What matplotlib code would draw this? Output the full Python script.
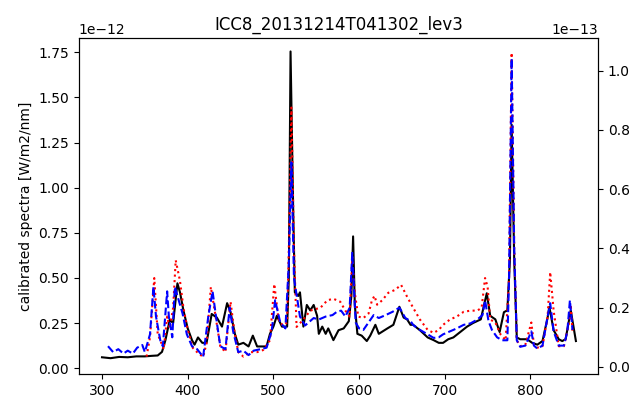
import numpy as np
import matplotlib
matplotlib.use("Agg")
import matplotlib.pyplot as plt

# black, left axis (x1e-12)
wl_black = [300, 310, 320, 330, 340, 350, 358, 365, 370, 374, 379, 383, 388, 391, 395, 400,
            405, 408, 412, 417, 422, 428, 434, 440, 446, 450, 455, 459, 465, 471, 476, 481,
            492, 496, 500, 504, 510, 516, 518, 520, 523, 525, 529, 531, 535, 539, 543, 547,
            551, 553, 557, 561, 564, 570, 576, 582, 588, 591, 593, 595, 598, 603, 609, 613,
            619, 623, 633, 640, 647, 652, 656, 660, 663, 671, 680, 687, 693, 698, 704, 710,
            718, 726, 733, 742, 749, 753, 759, 764, 769, 773, 776, 778, 781, 784, 788, 796,
            802, 808, 814, 820, 822, 827, 833, 837, 841, 847, 853]
black = [0.06, 0.055, 0.062, 0.06, 0.065, 0.065, 0.068, 0.07, 0.09, 0.155, 0.267, 0.25, 0.47, 0.42, 0.32, 0.22,
         0.155, 0.13, 0.17, 0.14, 0.14, 0.30, 0.28, 0.23, 0.36, 0.31, 0.19, 0.13, 0.14, 0.12, 0.18, 0.12,
         0.12, 0.19, 0.23, 0.29, 0.23, 0.23, 0.5, 1.755, 0.9, 0.42, 0.40, 0.42, 0.23, 0.35, 0.32, 0.35,
         0.29, 0.19, 0.23, 0.19, 0.22, 0.155, 0.21, 0.22, 0.26, 0.4, 0.73, 0.35, 0.19, 0.18, 0.15, 0.18,
         0.24, 0.19, 0.22, 0.24, 0.34, 0.28, 0.27, 0.24, 0.24, 0.21, 0.17, 0.155, 0.14, 0.14, 0.16, 0.17,
         0.20, 0.23, 0.25, 0.27, 0.415, 0.29, 0.27, 0.20, 0.31, 0.32, 0.6, 1.35, 0.6, 0.17, 0.16, 0.16,
         0.14, 0.13, 0.15, 0.28, 0.34, 0.21, 0.16, 0.15, 0.16, 0.32, 0.15]

# red dotted, right axis (x1e-13)
wl_red = [352, 356, 361, 365, 368, 372, 376, 379, 383, 386, 391, 395, 400, 406, 412, 418,
          422, 427, 432, 438, 444, 450, 454, 459, 465, 473, 481, 488, 496, 501, 506, 511,
          516, 518, 521, 524, 527, 535, 543, 555, 563, 570, 578, 584, 589, 592, 595, 599,
          605, 611, 615, 618, 621, 627, 634, 642, 649, 656, 663, 671, 680, 687, 693, 698,
          706, 714, 722, 730, 738, 743, 747, 750, 753, 759, 765, 771, 775, 778, 781, 784,
          788, 794, 801, 804, 808, 814, 820, 823, 827, 833, 839, 845, 847, 849]
red = [0.035, 0.1, 0.30, 0.11, 0.09, 0.06, 0.17, 0.13, 0.2, 0.36, 0.29, 0.20, 0.125, 0.064, 0.047, 0.034,
       0.08, 0.27, 0.18, 0.07, 0.05, 0.22, 0.13, 0.05, 0.035, 0.05, 0.05, 0.057, 0.09, 0.28, 0.16, 0.14,
       0.15, 0.4, 0.875, 0.4, 0.135, 0.16, 0.19, 0.20, 0.225, 0.23, 0.22, 0.19, 0.17, 0.37, 0.25, 0.17,
       0.165, 0.18, 0.225, 0.24, 0.21, 0.225, 0.25, 0.26, 0.277, 0.237, 0.20, 0.16, 0.125, 0.115, 0.125, 0.142,
       0.16, 0.17, 0.186, 0.19, 0.19, 0.2, 0.30, 0.27, 0.16, 0.15, 0.11, 0.09, 0.3, 1.06, 0.4, 0.09,
       0.07, 0.075, 0.15, 0.075, 0.065, 0.07, 0.17, 0.32, 0.19, 0.07, 0.07, 0.15, 0.21, 0.12]

# blue dashed, right axis (x1e-13)
wl_blue = [307, 313, 319, 325, 330, 336, 341, 347, 350, 356, 360, 363, 368, 371, 376, 378,
           382, 385, 389, 394, 399, 405, 411, 418, 424, 429, 434, 438, 444, 449, 453, 459,
           465, 471, 477, 485, 492, 498, 502, 508, 514, 518, 521, 524, 531, 537, 541, 547,
           553, 561, 569, 574, 579, 584, 589, 592, 596, 600, 605, 611, 617, 623, 631, 639,
           647, 654, 660, 663, 671, 680, 687, 693, 698, 706, 714, 722, 730, 738, 744, 747,
           751, 755, 761, 767, 773, 775, 778, 781, 784, 788, 794, 801, 804, 808, 814, 820,
           823, 827, 833, 839, 843, 846, 849]
blue = [0.07, 0.05, 0.06, 0.045, 0.055, 0.045, 0.065, 0.074, 0.05, 0.11, 0.27, 0.17, 0.09, 0.07, 0.255, 0.17,
        0.1, 0.27, 0.23, 0.18, 0.11, 0.07, 0.06, 0.034, 0.17, 0.255, 0.15, 0.07, 0.06, 0.2, 0.12, 0.05,
        0.055, 0.04, 0.055, 0.06, 0.065, 0.12, 0.225, 0.15, 0.13, 0.35, 0.69, 0.3, 0.17, 0.14, 0.15, 0.165,
        0.16, 0.17, 0.175, 0.186, 0.19, 0.17, 0.2, 0.385, 0.15, 0.13, 0.125, 0.15, 0.175, 0.165, 0.175, 0.186,
        0.2, 0.165, 0.155, 0.142, 0.125, 0.11, 0.098, 0.1, 0.11, 0.12, 0.13, 0.142, 0.147, 0.16, 0.175, 0.225,
        0.155, 0.125, 0.1, 0.09, 0.09, 0.3, 1.04, 0.4, 0.09, 0.068, 0.072, 0.12, 0.072, 0.062, 0.072, 0.17,
        0.215, 0.12, 0.072, 0.072, 0.12, 0.225, 0.125]

fig = plt.figure(figsize=(6.31, 3.95), dpi=100)
ax = fig.add_axes([0.125, 0.053, 0.823, 0.851])
ax.plot(wl_black, np.array(black) * 1e-12, 'k-', lw=1.5)
ax.set_ylabel('calibrated spectra [W/m2/nm]')
ax.set_title('ICC8_20131214T041302_lev3')
ax.set_xlim(273, 879)
ax.set_ylim(-0.033e-12, 1.83e-12)
ax.set_yticks(np.arange(0, 1.76, 0.25) * 1e-12)

ax2 = ax.twinx()
ax2.plot(wl_red, np.array(red) * 1e-13, 'r:', lw=1.5)
ax2.plot(wl_blue, np.array(blue) * 1e-13, 'b--', lw=1.5)
ax2.set_ylim(-0.024e-13, 1.11e-13)
ax2.set_yticks(np.arange(0, 1.01, 0.2) * 1e-13)

fig.savefig('out.png', dpi=100)
